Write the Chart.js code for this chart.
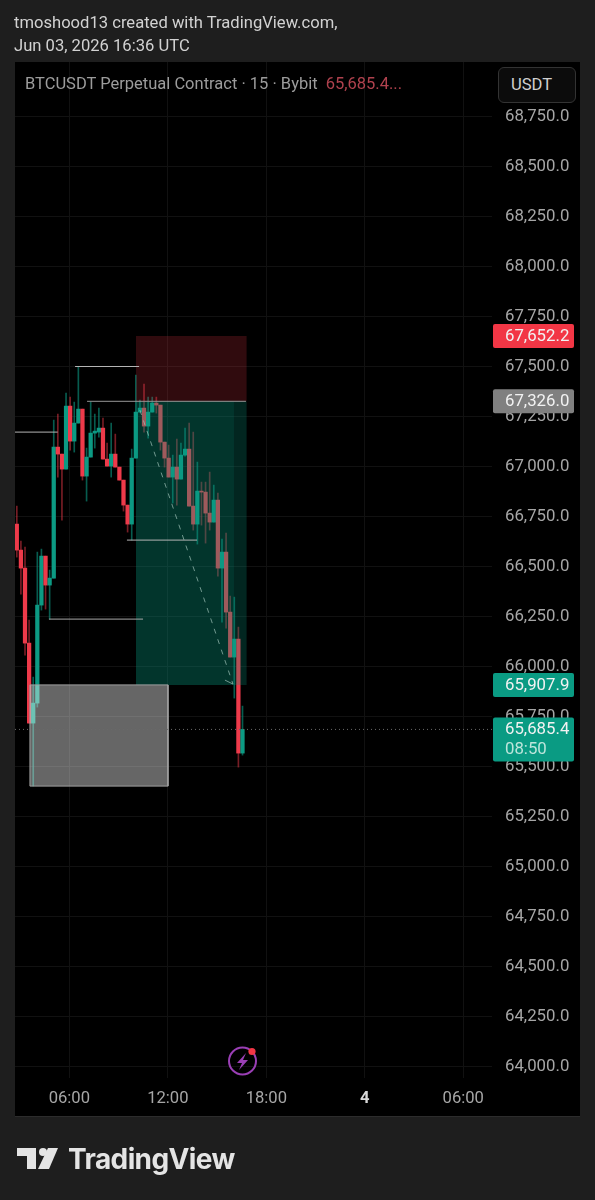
<!DOCTYPE html>
<html>
<head>
<meta charset="utf-8">
<title>BTCUSDT</title>
<script src="https://cdn.jsdelivr.net/npm/chart.js@4"></script>
<style>
  html, body { margin: 0; padding: 0; background: #1e1e1e; }
  body { position: relative; width: 595px; height: 1200px; overflow: hidden; font-family: Roboto, sans-serif; }
  canvas { position: absolute; left: 0; top: 0; }
  .txt { position: absolute; white-space: nowrap; font-size: 16.6px; line-height: 20px; }
  .head { left: 14px; color: #d2d2d2; }
  #title { left: 25px; top: 74px; color: #9c9c9c; font-size: 16.5px; }
  #title span { color: #b0424e; margin-left: 4px; }
  #usdt { position: absolute; left: 498px; top: 67px; height: 34px; border: 1px solid #333; border-radius: 6px;
          background: #0c0c0c; color: #d0d0d0; font-size: 16.6px; line-height: 34px; padding-left: 12px; width: 64px; }
  #brand { left: 68px; top: 1140px; font-family: Inter, sans-serif; font-weight: 700; font-size: 28px; line-height: 38px; color: #e4e4e4; letter-spacing: -0.6px; }
  svg { position: absolute; }
</style>
</head>
<body>
<canvas id="chart" width="595" height="1200"></canvas>
<div class="txt head" style="top:13px">tmoshood13 created with TradingView.com,</div>
<div class="txt head" style="top:36px">Jun 03, 2026 16:36 UTC</div>
<div class="txt" id="title">BTCUSDT Perpetual Contract · 15 · Bybit <span>65,685.4...</span></div>
<div id="usdt">USDT</div>
<svg style="left:226px;top:1044px" width="34" height="34" viewBox="0 0 34 34">
  <circle cx="16.5" cy="17" r="13.5" fill="none" stroke="#9a3fb5" stroke-width="2"></circle>
  <path d="M20 9 L11 19 L16 19 L13 26 L22 16 L17 16 Z" fill="#9a3fb5"></path>
  <circle cx="26" cy="7.5" r="3.6" fill="#f23645"></circle>
</svg>
<svg style="left:16px;top:1146px" width="44" height="26" viewBox="0 0 44 26">
  <path d="M1 2 H20 V23 H11 V10 H1 Z" fill="#e4e4e4"></path>
  <circle cx="27" cy="6" r="4" fill="#e4e4e4"></circle>
  <path d="M32 2 H42 L33 23 H22 Z" fill="#e4e4e4"></path>
</svg>
<div class="txt" id="brand">TradingView</div>

<script>
// 15 min candles
const opens  = [66712,66582,66492,66117,65717,65817,66307,66552,66407,66442,67097,67062,66987,67302,67127,67217,67287,66952,67047,67167,67172,67192,67037,67002,67062,66997,66932,66807,66712,67042,67272,67292,67202,67272,67317,67307,67122,67042,66947,66997,66937,67057,67087,66802,66712,66877,66872,66767,66722,66832,66492,66572,66272,66047,66137,65567];
const highs  = [66802,66627,66597,66232,65947,66572,66587,66552,66482,67232,67262,67062,67367,67347,67322,67497,67287,67092,67322,67262,67292,67242,67117,67217,67162,66997,66932,66807,67087,67457,67332,67412,67347,67347,67347,67307,67122,67107,67057,67137,67117,67192,67217,67172,67022,66922,66922,66972,66907,66867,66637,66667,66352,66347,66197,65802];
const lows   = [66547,66362,66057,65717,65402,65797,66282,66287,66237,66442,66947,66732,66987,67082,67072,67217,66932,66827,67047,67092,67147,67037,67002,66947,66997,66932,66777,66672,66632,67042,67272,67172,67142,67272,67267,67082,66997,66947,66817,66807,66937,67052,66802,66682,66612,66707,66617,66682,66722,66452,66222,66192,66047,65842,65497,65557];
const closes = [66582,66492,66117,65717,65817,66307,66552,66407,66442,67097,67062,66987,67302,67127,67217,67287,66952,67047,67167,67177,67192,67037,67002,67062,66997,66932,66807,66712,67042,67272,67292,67202,67272,67317,67307,67122,67042,66947,66997,66937,67057,67087,66802,66712,66877,66872,66767,66722,66832,66492,66572,66272,66047,66137,65567,65685.4];
const firstHour = 2.8;
const candleHours = opens.map((_, i) => firstHour + i * 0.25);

const priceTicks = [64000,64250,64500,64750,65000,65250,65500,65750,66000,66250,66500,66750,67000,67250,67500,67750,68000,68250,68500,68750];
const timeTicks = [6, 12, 18, 24, 30];
const timeLabels = ["06:00", "12:00", "18:00", "4", "06:00"];

// drawings: [from hour, to hour, price]
const levelLines = [
  [2.69, 5.29, 67172],
  [6.35, 10.25, 67500],
  [7.08, 16.76, 67326],
  [9.51, 13.78, 66632],
  [4.76, 10.49, 66237]
];
const tradeEntry = 67326, tradeStop = 67652.2, tradeTarget = 65907.9;
const tradeStart = 10.06, tradeEnd = 16.81, tradeInnerEnd = 16.03;
const greyHours = [3.6, 12.01];
const greyPrices = [65907.9, 65402];
const lastPrice = 65685.4;
const pathHours = [10.3, 15.97];
const pathPrices = [67282, 65912];
const arrowHours = [15.48, 15.97];
const arrowPrices = [65932, 65912];

const UP = "#0c9a83", DOWN = "#ee3a4a";
const isUp = closes.map((c, i) => c >= opens[i]);

function band(x0, x1, top, bottom, color) {
  return {
    type: "line",
    order: 1,
    data: [{ x: x0, y: top }, { x: x1, y: top }],
    borderWidth: 0,
    pointRadius: 0,
    backgroundColor: color,
    fill: { value: bottom }
  };
}

function stroke(points, color, width, dash) {
  return {
    type: "line",
    order: 0,
    data: points,
    borderColor: color,
    borderWidth: width,
    borderDash: dash || [],
    pointRadius: 0,
    tension: 0,
    fill: false
  };
}

// ------------------ Page furniture ------------------
const panelPlugin = {
  id: "panel",
  beforeDraw(chart) {
    const c = chart.ctx;
    c.save();
    c.fillStyle = "#1e1e1e";
    c.fillRect(0, 0, 595, 1200);
    c.fillStyle = "#000";
    c.fillRect(15, 62, 565, 1055);
    c.fillStyle = "#2c2c2c";
    c.fillRect(15, 1116, 565, 1);
    c.restore();
  }
};

const tags = [
  { price: tradeStop, h: 24, color: "#f23645", text: "67,652.2" },
  { price: tradeEntry, h: 24, color: "#808080", text: "67,326.0" },
  { price: tradeTarget, h: 24, color: "#0a9b83", text: "65,907.9" }
];

const tagPlugin = {
  id: "tags",
  afterDraw(chart) {
    const c = chart.ctx, y = chart.scales.y;
    c.save();
    c.font = "16.8px Roboto";
    c.textBaseline = "middle";
    tags.forEach(t => {
      const py = y.getPixelForValue(t.price);
      c.fillStyle = t.color;
      c.beginPath();
      c.roundRect(493, py - t.h / 2, 81, t.h, 2);
      c.fill();
      c.fillStyle = "#f2f2f2";
      c.fillText(t.text, 505, py + 1);
    });
    const py = y.getPixelForValue(lastPrice);
    c.fillStyle = "#0a9b83";
    c.beginPath();
    c.roundRect(493, py - 12, 81, 44, 2);
    c.fill();
    c.fillStyle = "#f2f2f2";
    c.fillText("65,685.4", 505, py);
    c.fillStyle = "#bde5db";
    c.fillText("08:50", 505, py + 20);
    c.restore();
  }
};

// ------------------ Chart ------------------
new Chart(document.getElementById("chart").getContext("2d"), {
  type: "bar",
  plugins: [panelPlugin, tagPlugin],
  data: {
    datasets: [
      stroke(levelLines[0].slice(0, 2).map(h => ({ x: h, y: levelLines[0][2] })), "#b4b4b4", 1),
      stroke(levelLines[1].slice(0, 2).map(h => ({ x: h, y: levelLines[1][2] })), "#b4b4b4", 1),
      stroke(levelLines[2].slice(0, 2).map(h => ({ x: h, y: levelLines[2][2] })), "#969696", 1),
      stroke(levelLines[3].slice(0, 2).map(h => ({ x: h, y: levelLines[3][2] })), "#b4b4b4", 1),
      stroke(levelLines[4].slice(0, 2).map(h => ({ x: h, y: levelLines[4][2] })), "#a8a8a8", 1),
      stroke(pathHours.map((h, i) => ({ x: h, y: pathPrices[i] })), "rgba(160,195,185,0.7)", 1, [5, 6]),
      stroke(arrowHours.map((h, i) => ({ x: h, y: arrowPrices[i] })), "rgba(160,195,185,0.7)", 1),
      stroke([2.69, 31.75].map(h => ({ x: h, y: lastPrice })), "#6a6a6a", 1, [1, 3]),
      stroke([
        { x: greyHours[0], y: greyPrices[0] },
        { x: greyHours[1], y: greyPrices[0] },
        { x: greyHours[1], y: greyPrices[1] },
        { x: greyHours[0], y: greyPrices[1] },
        { x: greyHours[0], y: greyPrices[0] }
      ], "#a0a0a0", 1),
      band(greyHours[0], greyHours[1], greyPrices[0], greyPrices[1], "rgba(255,255,255,0.4)"),
      band(tradeStart, tradeEnd, tradeStop, tradeEntry, "rgba(242,54,69,0.2)"),
      band(tradeStart, tradeEnd, tradeEntry, tradeTarget, "rgba(8,153,129,0.25)"),
      band(tradeStart, tradeInnerEnd, tradeEntry, tradeTarget, "rgba(8,153,129,0.13)"),
      {
        order: 2,
        data: candleHours.map((h, i) => ({ x: h, y: [Math.min(opens[i], closes[i]), Math.max(opens[i], closes[i])] })),
        backgroundColor: isUp.map(u => (u ? UP : DOWN)),
        barThickness: 3.6,
        minBarLength: 1,
        grouped: false
      },
      {
        order: 3,
        data: candleHours.map((h, i) => ({ x: h, y: [lows[i], highs[i]] })),
        backgroundColor: isUp.map(u => (u ? "rgba(12,154,131,0.6)" : "rgba(238,58,74,0.5)")),
        barThickness: 1,
        grouped: false
      }
    ]
  },
  options: {
    responsive: false,
    animation: false,
    layout: { padding: { left: 15, top: 62, right: 15, bottom: 83 } },
    plugins: { legend: { display: false }, tooltip: { enabled: false } },
    scales: {
      x: {
        type: "linear",
        offset: false,
        min: 2.69,
        max: 31.75,
        border: { display: false },
        grid: { offset: false, color: "#111111", drawTicks: false },
        afterBuildTicks: s => { s.ticks = timeTicks.map(v => ({ value: v })); },
        afterFit: s => { s.height = 39; },
        ticks: {
          autoSkip: false,
          maxRotation: 0,
          padding: 11,
          color: ctx => (timeLabels[ctx.index] === "4" ? "#d8d8d8" : "#a6a6a6"),
          font: ctx => ({ family: "Roboto", size: 16.6, weight: timeLabels[ctx.index] === "4" ? "bold" : "normal" }),
          callback: (v, i) => timeLabels[i]
        }
      },
      y: {
        position: "right",
        min: 63942.5,
        max: 69022.5,
        border: { display: false },
        grid: { color: "#111111", drawTicks: false },
        afterBuildTicks: s => { s.ticks = priceTicks.map(v => ({ value: v })); },
        afterFit: s => { s.width = 88; },
        ticks: {
          autoSkip: false,
          padding: 13,
          color: "#a6a6a6",
          font: { family: "Roboto", size: 16.8 },
          callback: v => v.toLocaleString("en-US", { minimumFractionDigits: 1, maximumFractionDigits: 1 })
        }
      }
    }
  }
});
</script>
</body>
</html>
